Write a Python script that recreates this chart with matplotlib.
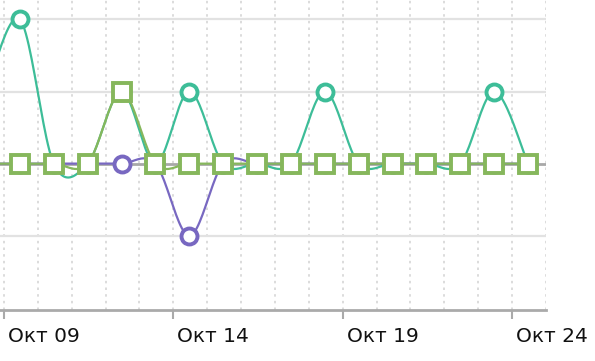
import numpy as np
import matplotlib
matplotlib.use("Agg")
import matplotlib.pyplot as plt
import matplotlib.transforms as mtransforms

# days counted from Oct 09 (00:00); points sit around noon
days = [-1, 0, 1, 2, 3, 4, 5, 6, 7, 8, 9, 10, 11, 12, 13, 14, 15]
point_offset = 0.47
teal = [1, 2, 0, 0, 1, 0, 1, 0, 0, 0, 1, 0, 0, 0, 0, 1, 0]
purple = [0, 0, 0, 0, 0, 0, -1, 0, 0, 0, 0, 0, 0, 0, 0, 0, 0]
green = [0, 0, 0, 0, 1, 0, 0, 0, 0, 0, 0, 0, 0, 0, 0, 0, 0]
tick_days = [0, 5, 10, 15]
tick_labels = ["Окт 09", "Окт 14", "Окт 19", "Окт 24"]

TEAL = "#3dbd98"
PURPLE = "#7868c1"
GREEN = "#86b75c"


def cardinal(x, y, n=24):
    # catmull-rom curve through the points (like d3 curveCardinal, tension 0)
    x = np.asarray(x, float)
    y = np.asarray(y, float)
    xp = np.concatenate([[x[0]], x, [x[-1]]])
    yp = np.concatenate([[y[0]], y, [y[-1]]])
    xs, ys = [], []
    for i in range(1, len(xp) - 2):
        t = np.linspace(0, 1, n)
        h00 = 2 * t**3 - 3 * t**2 + 1
        h10 = t**3 - 2 * t**2 + t
        h01 = -2 * t**3 + 3 * t**2
        h11 = t**3 - t**2
        mx1 = (xp[i + 1] - xp[i - 1]) / 2
        mx2 = (xp[i + 2] - xp[i]) / 2
        my1 = (yp[i + 1] - yp[i - 1]) / 2
        my2 = (yp[i + 2] - yp[i]) / 2
        xs.append(h00 * xp[i] + h10 * mx1 + h01 * xp[i + 1] + h11 * mx2)
        ys.append(h00 * yp[i] + h10 * my1 + h01 * yp[i + 1] + h11 * my2)
    return np.concatenate(xs), np.concatenate(ys)


x = np.array(days) + point_offset

fig = plt.figure(figsize=(5.95, 3.61), dpi=100)
ax = fig.add_axes([0, 1 - 310 / 361, 546 / 595, 310 / 361])
ax.set_xlim(-0.118, 16.0)
ax.set_ylim(-2.03, 2.27)

# grid
for d in range(0, 17):
    ax.axvline(d, color="#d6d6d6", lw=1.2, ls=(0, (1.5, 2.5)), zorder=0)
for v in [2, 1, -1]:
    ax.axhline(v, color="#e2e2e2", lw=1.6, zorder=0)
ax.axhline(0, color="#a8a8a8", lw=2, zorder=1)

for ys, c in [(teal, TEAL), (purple, PURPLE), (green, GREEN)]:
    cx, cy = cardinal(x, ys)
    ax.plot(cx, cy, color=c, lw=1.6, zorder=2)

ax.plot(x, teal, ls="none", marker="o", ms=11.5, mew=2.8, mfc="white", mec=TEAL, zorder=3)
ax.plot(x, purple, ls="none", marker="o", ms=11.5, mew=2.8, mfc="white", mec=PURPLE, zorder=4)
ax.plot(x, green, ls="none", marker="s", ms=12.5, mew=2.8, mfc="white", mec=GREEN, zorder=5)

for s in ["top", "right", "left"]:
    ax.spines[s].set_visible(False)
ax.spines["bottom"].set_color("#aaaaaa")
ax.spines["bottom"].set_linewidth(2)
ax.set_yticks([])
ax.set_xticks(tick_days)
ax.set_xticklabels(tick_labels, ha="left", fontsize=14.5, color="#111111")
ax.tick_params(axis="x", length=6.5, width=1.5, color="#aaaaaa", pad=5.5)
offset = mtransforms.ScaledTranslation(4 / 100, 0, fig.dpi_scale_trans)
for lbl in ax.get_xticklabels():
    lbl.set_transform(lbl.get_transform() + offset)

fig.savefig("out.png", dpi=100)
